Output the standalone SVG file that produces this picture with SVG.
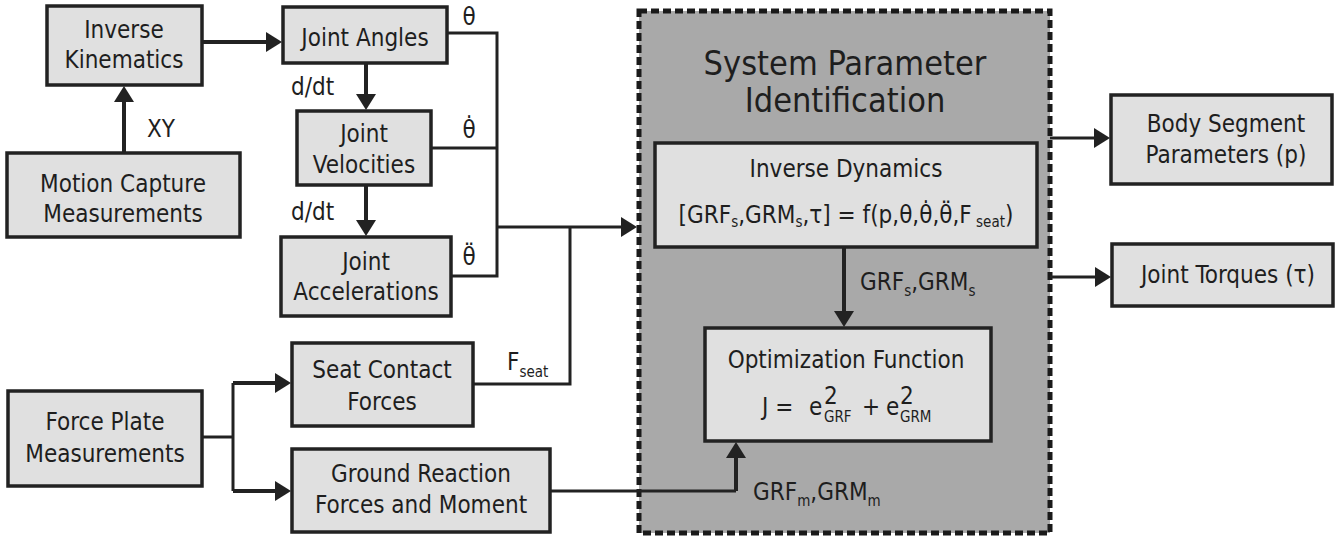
<svg xmlns="http://www.w3.org/2000/svg" width="1343" height="538" viewBox="0 0 1343 538">
  <defs>
    <style>
      .box { fill: #e0e0e0; stroke: #222; stroke-width: 3.5; }
      .frame { fill: #a9a9a9; stroke: #1a1a1a; stroke-width: 5; stroke-dasharray: 8 4; }
      .t { font-family: "DejaVu Sans Condensed", "DejaVu Sans", sans-serif; font-stretch: condensed; font-size: 24px; fill: #1e1e1e; }
      .c { text-anchor: middle; }
      .title { font-size: 34px; }
      .sub { font-size: 15px; }
      .wire { fill: none; stroke: #222; stroke-width: 3; }
      .thick { stroke-width: 4; }
      .arrow { marker-end: url(#ah); }
    </style>
    <marker id="ah" viewBox="0 0 16 20" refX="8" refY="10" markerWidth="16" markerHeight="20" markerUnits="userSpaceOnUse" orient="auto">
      <path d="M0,0 L16,10 L0,20 z" fill="#222"/>
    </marker>
  </defs>
  <rect width="1343" height="538" fill="#ffffff"/>

  <!-- identification frame -->
  <g id="system-parameter-identification">
    <rect class="frame" x="639" y="11" width="411" height="522"/>
    <text class="t c title" x="845" y="75">System Parameter</text>
    <text class="t c title" x="845" y="112">Identification</text>
  </g>

  <g id="inverse-kinematics">
    <rect class="box" x="47" y="6" width="155" height="79"/>
    <text class="t c" x="124" y="38">Inverse</text>
    <text class="t c" x="124" y="68">Kinematics</text>
  </g>

  <g id="motion-capture">
    <rect class="box" x="7" y="153" width="233" height="84"/>
    <text class="t c" x="123" y="192">Motion Capture</text>
    <text class="t c" x="123" y="222">Measurements</text>
  </g>

  <g id="joint-angles">
    <rect class="box" x="283" y="7" width="164" height="56"/>
    <text class="t c" x="365" y="46">Joint Angles</text>
  </g>

  <g id="joint-velocities">
    <rect class="box" x="297" y="111" width="134" height="74"/>
    <text class="t c" x="364" y="142">Joint</text>
    <text class="t c" x="364" y="173">Velocities</text>
  </g>

  <g id="joint-accelerations">
    <rect class="box" x="281" y="237" width="170" height="79"/>
    <text class="t c" x="366" y="270">Joint</text>
    <text class="t c" x="366" y="300">Accelerations</text>
  </g>

  <g id="force-plate">
    <rect class="box" x="8" y="391" width="194" height="95"/>
    <text class="t c" x="105" y="430">Force Plate</text>
    <text class="t c" x="105" y="462">Measurements</text>
  </g>

  <g id="seat-contact-forces">
    <rect class="box" x="292" y="343" width="181" height="83"/>
    <text class="t c" x="382" y="378">Seat Contact</text>
    <text class="t c" x="382" y="410">Forces</text>
  </g>

  <g id="ground-reaction">
    <rect class="box" x="292" y="449" width="258" height="83"/>
    <text class="t c" x="421" y="482">Ground Reaction</text>
    <text class="t c" x="421" y="513">Forces and Moment</text>
  </g>

  <g id="inverse-dynamics">
    <rect class="box" x="655" y="143" width="382" height="104"/>
    <text class="t c" x="846" y="177">Inverse Dynamics</text>
    <text class="t c" x="846" y="223">[GRF<tspan class="sub" dy="4">s</tspan><tspan dy="-4">,GRM</tspan><tspan class="sub" dy="4">s</tspan><tspan dy="-4">,τ] = f(p,θ,θ̇,θ̈,F</tspan><tspan class="sub" dy="4"> seat</tspan><tspan dy="-4">)</tspan></text>
  </g>

  <g id="optimization-function">
    <rect class="box" x="705" y="328" width="286" height="113"/>
    <text class="t c" x="846" y="368">Optimization Function</text>
    <!-- J = e²_GRF + e²_GRM, with exponent stacked over subscript -->
    <text class="t" x="762" y="415">J =</text>
    <text class="t" x="809" y="415">e</text>
    <text class="t" x="824" y="404">2</text>
    <text class="t sub" x="824" y="422">GRF</text>
    <text class="t" x="862" y="415">+</text>
    <text class="t" x="886" y="415">e</text>
    <text class="t" x="900" y="404">2</text>
    <text class="t sub" x="900" y="422">GRM</text>
  </g>

  <g id="body-segment-parameters">
    <rect class="box" x="1111" y="95" width="221" height="89"/>
    <text class="t c" x="1226" y="132">Body Segment</text>
    <text class="t c" x="1226" y="163">Parameters (p)</text>
  </g>

  <g id="joint-torques">
    <rect class="box" x="1112" y="244" width="221" height="62"/>
    <text class="t c" x="1228" y="283">Joint Torques (τ)</text>
  </g>

  <!-- connectors -->
  <g id="connectors">
    <path class="wire thick arrow" d="M124,153 V94"/>
    <path class="wire thick arrow" d="M202,42 H274"/>
    <path class="wire thick arrow" d="M366,63 V102"/>
    <path class="wire thick arrow" d="M366,185 V228"/>
    <path class="wire" d="M447,33 H497 V276 H451"/>
    <path class="wire" d="M431,148 H497"/>
    <path class="wire arrow" d="M497,227 H629"/>
    <path class="wire" d="M473,384 H570 V227"/>
    <path class="wire" d="M202,437 H233"/>
    <path class="wire" d="M233,383 V491"/>
    <path class="wire thick arrow" d="M233,383 H283"/>
    <path class="wire thick arrow" d="M233,491 H283"/>
    <path class="wire" d="M550,491 H736"/>
    <path class="wire thick arrow" d="M736,491 V450"/>
    <path class="wire thick arrow" d="M844,247 V319"/>
    <path class="wire arrow" d="M1050,138 H1102"/>
    <path class="wire arrow" d="M1050,277 H1103"/>
  </g>

  <!-- connector labels -->
  <g id="labels">
    <text class="t" x="147" y="137">XY</text>
    <text class="t" x="291" y="95">d/dt</text>
    <text class="t" x="291" y="220">d/dt</text>
    <text class="t c" x="469" y="25">θ</text>
    <text class="t c" x="469" y="138">θ̇</text>
    <text class="t c" x="469" y="265">θ̈</text>
    <text class="t" x="507" y="370">F<tspan class="sub" dy="7">seat</tspan></text>
    <text class="t" x="860" y="290">GRF<tspan class="sub" dy="6">s</tspan><tspan dy="-6">,GRM</tspan><tspan class="sub" dy="6">s</tspan></text>
    <text class="t" x="753" y="500">GRF<tspan class="sub" dy="6">m</tspan><tspan dy="-6">,GRM</tspan><tspan class="sub" dy="6">m</tspan></text>
  </g>
</svg>
